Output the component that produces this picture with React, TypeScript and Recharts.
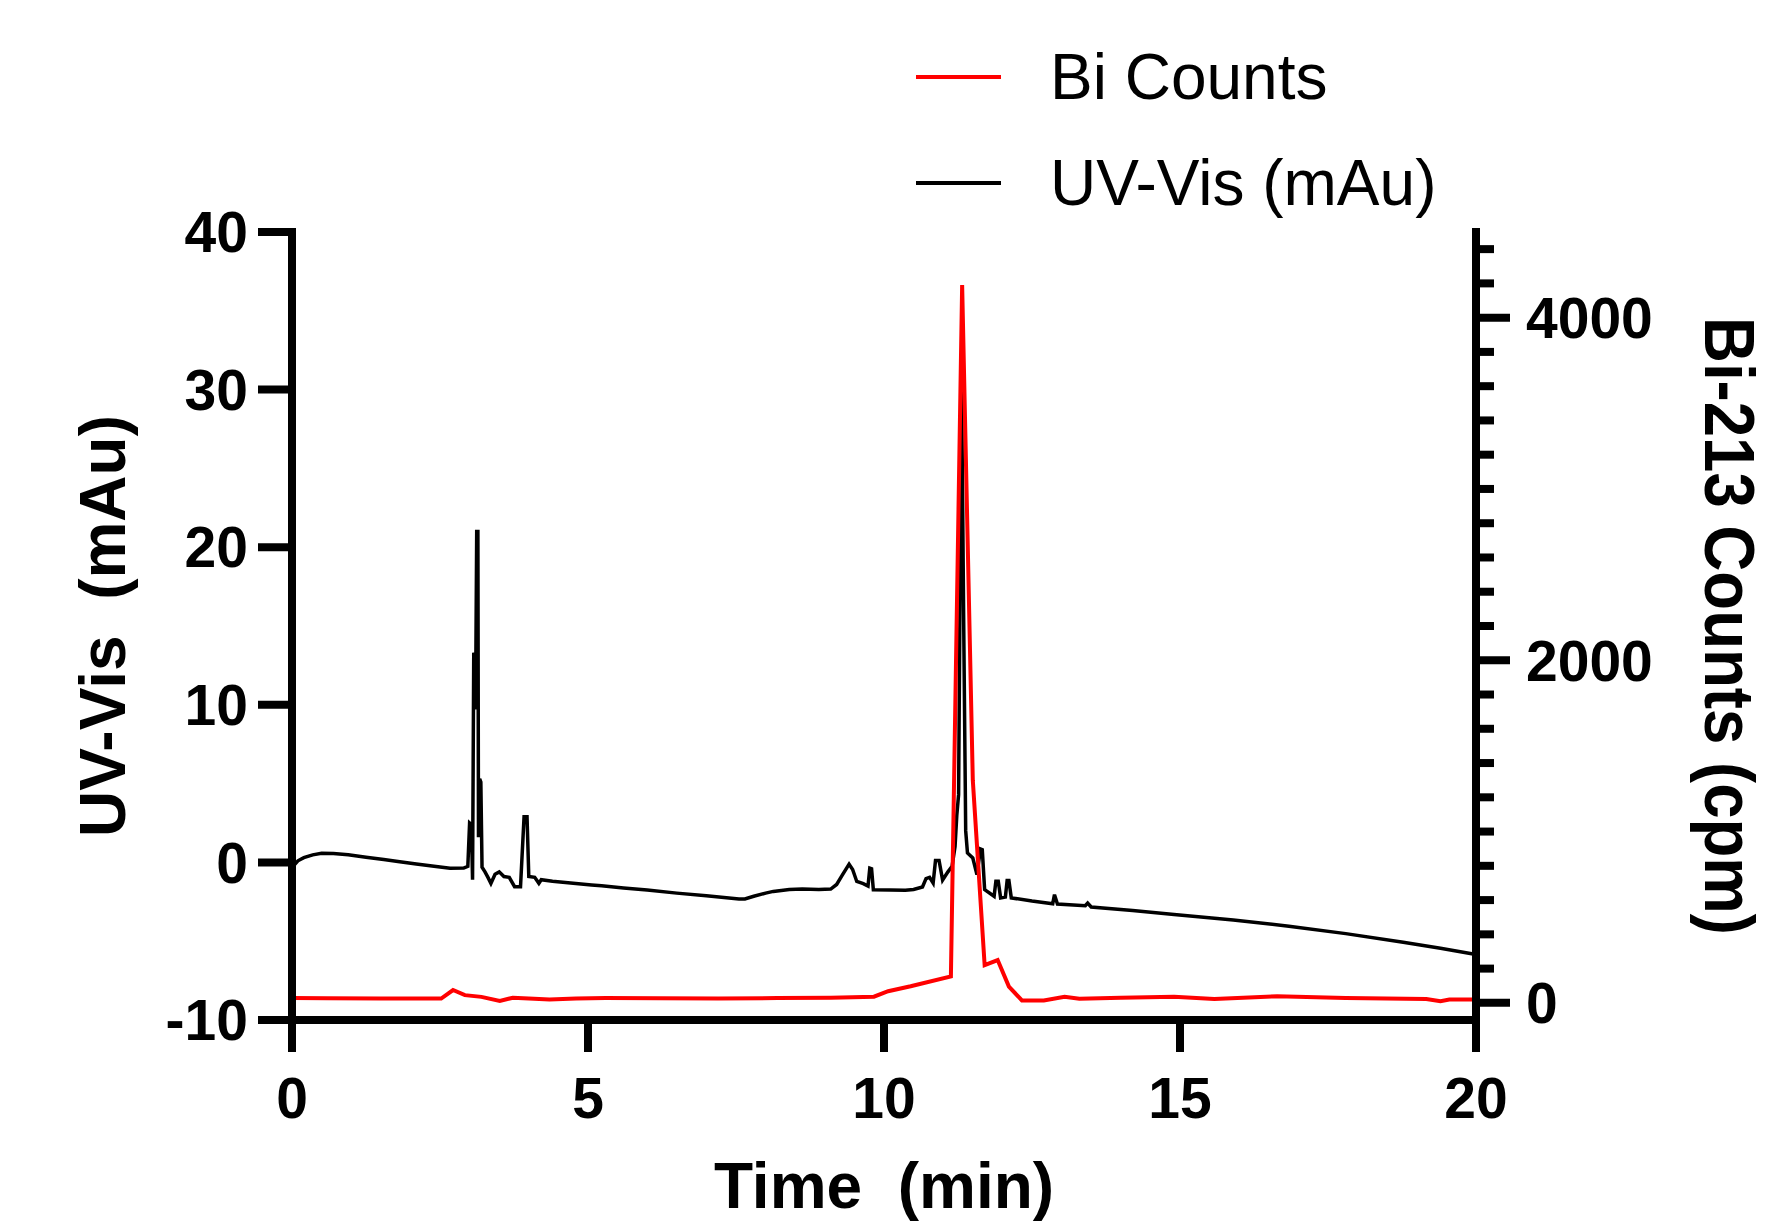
import React from 'react';
import { LineChart, Line, XAxis, YAxis, Legend } from 'recharts';

const FONT = '"Liberation Sans", Arial, Helvetica, sans-serif';

// UV-Vis trace: time (min) and absorbance (mAu)
const uvTime = [
  0.0, 0.04, 0.1, 0.2, 0.35, 0.5, 0.7, 0.95, 1.25, 1.55, 1.82, 2.1, 2.4, 2.67, 2.9, 2.97,
  3.0, 3.03, 3.05, 3.07, 3.09, 3.1, 3.12, 3.14, 3.15, 3.17, 3.19, 3.21, 3.26, 3.31, 3.36,
  3.43, 3.5, 3.58, 3.67, 3.76, 3.86, 3.92, 3.97, 4.0, 4.1, 4.17, 4.21, 4.4, 4.75, 5.06,
  5.23, 5.6, 6.0, 6.5, 7.0, 7.55, 7.65, 7.8, 8.0, 8.13, 8.4, 8.62, 8.9, 9.1, 9.2, 9.29,
  9.41, 9.47, 9.54, 9.65, 9.73, 9.76, 9.79, 9.82, 10.1, 10.36, 10.5, 10.65, 10.71, 10.77,
  10.83, 10.87, 10.93, 10.99, 11.08, 11.15, 11.2, 11.23, 11.26, 11.31, 11.35, 11.38, 11.41,
  11.5, 11.57, 11.63, 11.66, 11.7, 11.86, 11.89, 11.93, 11.97, 12.05, 12.08, 12.11, 12.15,
  12.5, 12.85, 12.88, 12.93, 13.4, 13.44, 13.5, 14.2, 14.9, 15.9, 16.84, 17.8, 18.77, 19.4, 20.0,
];
const uvAbs = [
  -0.45, -0.15, 0.1, 0.3, 0.48, 0.58, 0.56, 0.48, 0.33, 0.18, 0.04, -0.1, -0.25, -0.37, -0.36, -0.25,
  2.5, 2.4, -1.1, 13.3, 13.0, 9.7, 21.0, 21.0, 1.6, 5.3, 5.1, -0.3, -0.6, -0.95, -1.33,
  -0.75, -0.6, -0.9, -0.95, -1.54, -1.54, 2.9, 2.9, -0.9, -0.95, -1.33, -1.1, -1.2, -1.33, -1.43,
  -1.48, -1.62, -1.75, -1.95, -2.12, -2.32, -2.32, -2.15, -1.95, -1.84, -1.72, -1.69, -1.72, -1.69, -1.4, -0.84,
  -0.11, -0.45, -1.21, -1.35, -1.5, -0.36, -0.4, -1.73, -1.75, -1.77, -1.72, -1.56, -1.03, -0.95,
  -1.31, 0.12, 0.12, -1.12, -0.6, -0.25, 1.0, 3.0, 4.3, 30.5, 13.7, 2.0, 0.6,
  0.28, -0.78, 0.85, 0.8, -1.73, -2.15, -1.2, -1.2, -2.25, -2.2, -1.15, -1.15, -2.25,
  -2.45, -2.62, -2.05, -2.64, -2.75, -2.58, -2.83, -3.05, -3.31, -3.65, -4.05, -4.52, -5.06, -5.45, -5.85,
];

// Bi-213 radio trace: time (min) and counts (cpm)
const biTime = [
  0.0, 0.6, 1.5, 2.52, 2.72, 2.92, 3.2, 3.51, 3.73, 4.0, 4.35, 4.8, 5.3, 6.2, 7.2, 8.2, 9.1,
  9.83, 10.07, 10.45, 11.13, 11.32, 11.5, 11.7, 11.92, 12.11, 12.33, 12.7, 13.05, 13.3, 14.0,
  14.9, 15.58, 16.64, 17.8, 19.16, 19.4, 19.55, 20.0,
];
const biCounts = [
  28, 27, 25, 25, 75, 45, 35, 11, 30, 26, 19, 25, 28, 27, 25, 28, 30,
  36, 68, 97, 155, 4190, 1300, 220, 250, 95, 14, 14, 36, 24, 30,
  35, 23, 39, 29, 23, 10, 19, 19,
];

const xTicks = [0, 5, 10, 15, 20];
const leftTicks = [-10, 0, 10, 20, 30, 40];
const rightTicks = [
  0, 200, 400, 600, 800, 1000, 1200, 1400, 1600, 1800, 2000, 2200,
  2400, 2600, 2800, 3000, 3200, 3400, 3600, 3800, 4000, 4200, 4400,
];
const rightLabelled = [0, 2000, 4000];

const legendItems = [
  { name: 'Bi Counts', color: '#ff0000' },
  { name: 'UV-Vis (mAu)', color: '#000000' },
];

const uvData = uvTime.map((t, i) => ({ t, v: uvAbs[i] }));
const biData = biTime.map((t, i) => ({ t, c: biCounts[i] }));

const tickStyle = { fontSize: 57, fontWeight: 'bold', fill: '#000', fontFamily: FONT };
const axisLineStyle = { stroke: '#000', strokeWidth: 8, strokeLinecap: 'square' as const };
const tickLineStyle = { stroke: '#000', strokeWidth: 8 };

// right axis: minor ticks every 200, labelled major ticks every 2000
const RightTick = (props: any) => {
  const { x, y, payload } = props;
  const major = rightLabelled.includes(payload.value);
  return (
    <g>
      <line x1={x} y1={y} x2={x + (major ? 34 : 18)} y2={y} stroke="#000" strokeWidth={8} />
      {major && (
        <text x={x + 50} y={y} dy="0.36em" textAnchor="start" {...tickStyle}>
          {payload.value}
        </text>
      )}
    </g>
  );
};

const renderLegend = () => (
  <svg width={620} height={230}>
    {legendItems.map((s, i) => (
      <g key={s.name}>
        <line x1={36} x2={121} y1={77 + i * 106} y2={77 + i * 106} stroke={s.color} strokeWidth={4} />
        <text x={170} y={99 + i * 106} fontSize={64} fontFamily={FONT} fill="#000">
          {s.name}
        </text>
      </g>
    ))}
  </svg>
);

export default function App() {
  return (
    <div style={{ position: 'absolute', left: 0, top: 0, width: 1777, height: 1223, background: '#fff' }}>
      <LineChart width={1777} height={1223} margin={{ top: 232, right: 0, bottom: 0, left: 0 }}>
        <XAxis
          type="number"
          dataKey="t"
          domain={[0, 20]}
          ticks={xTicks}
          interval={0}
          height={203}
          stroke="#000"
          axisLine={axisLineStyle}
          tickLine={tickLineStyle}
          tickSize={32}
          tickMargin={26}
          tick={tickStyle}
          label={() => (
            <text
              x={884}
              y={1208}
              textAnchor="middle"
              fontSize={64}
              fontWeight="bold"
              fontFamily={FONT}
              fill="#000"
              xmlSpace="preserve"
              style={{ whiteSpace: 'pre' }}
            >
              {'Time  (min)'}
            </text>
          )}
        />
        <YAxis
          yAxisId="left"
          orientation="left"
          type="number"
          domain={[-10, 40]}
          ticks={leftTicks}
          interval={0}
          width={292}
          stroke="#000"
          axisLine={axisLineStyle}
          tickLine={tickLineStyle}
          tickSize={34}
          tickMargin={10}
          tick={tickStyle}
          label={() => (
            <text
              x={125}
              y={626}
              transform="rotate(-90 125 626)"
              textAnchor="middle"
              fontSize={64}
              fontWeight="bold"
              fontFamily={FONT}
              fill="#000"
              xmlSpace="preserve"
              style={{ whiteSpace: 'pre' }}
            >
              {'UV-Vis  (mAu)'}
            </text>
          )}
        />
        <YAxis
          yAxisId="right"
          orientation="right"
          type="number"
          domain={[-100, 4500]}
          ticks={rightTicks}
          interval={0}
          width={301}
          stroke="#000"
          axisLine={axisLineStyle}
          tickLine={false}
          tickSize={0}
          tickMargin={0}
          tick={RightTick}
          label={() => (
            <text
              x={1705}
              y={626}
              transform="rotate(90 1705 626)"
              textAnchor="middle"
              fontSize={70}
              fontWeight="bold"
              fontFamily={FONT}
              fill="#000"
              textLength={618}
              lengthAdjust="spacingAndGlyphs"
            >
              Bi-213 Counts (cpm)
            </text>
          )}
        />
        <Legend
          layout="vertical"
          align="center"
          verticalAlign="middle"
          content={renderLegend}
          wrapperStyle={{ left: 880, top: 0, width: 620, height: 230 }}
        />
        <Line
          yAxisId="left"
          data={uvData}
          dataKey="v"
          name="UV-Vis (mAu)"
          type="linear"
          stroke="#000"
          strokeWidth={3.5}
          dot={false}
          activeDot={false}
          isAnimationActive={false}
        />
        <Line
          yAxisId="right"
          data={biData}
          dataKey="c"
          name="Bi Counts"
          type="linear"
          stroke="#ff0000"
          strokeWidth={4}
          dot={false}
          activeDot={false}
          isAnimationActive={false}
        />
      </LineChart>
    </div>
  );
}
